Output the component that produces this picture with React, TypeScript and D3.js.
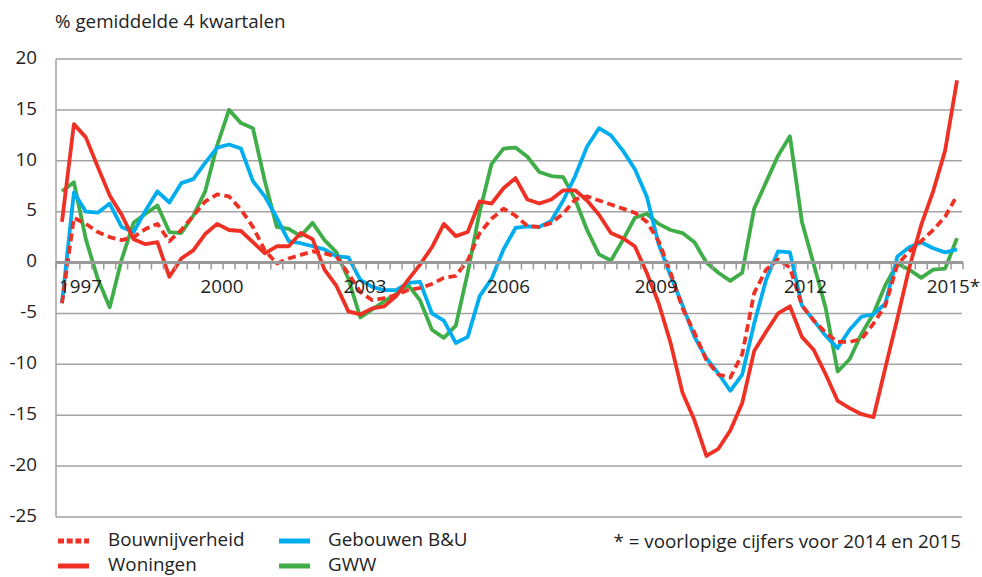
import React from 'react';
import * as d3 from 'd3';

// ---- data (quarterly, 1997K1 .. 2015K4) ----
const years = d3.range(1997, 2016);
const categories: string[] = years.flatMap((y) => [1, 2, 3, 4].map((q) => `${y}K${q}`));

const bouwnijverheid = [
  -4.0, 4.4, 3.8, 3.0, 2.5, 2.2, 2.5, 3.3, 3.8, 2.1, 3.2, 4.6, 6.0, 6.7, 6.5, 5.2,
  3.5, 1.2, -0.1, 0.4, 0.75, 1.1, 0.9, 0.6, -1.1, -2.9, -3.7, -3.5, -3.2, -2.7, -2.5, -2.1,
  -1.5, -1.3, 0.2, 2.9, 4.3, 5.3, 4.6, 3.6, 3.5, 3.9, 4.8, 6.2, 6.5, 6.1, 5.7, 5.3,
  4.9, 4.0, 2.1, -1.0, -4.5, -6.9, -9.6, -11.0, -11.3, -9.0, -3.0, -0.7, 0.3, -0.5, -4.2, -5.7,
  -6.9, -7.8, -7.8, -7.5, -6.0, -4.2, -0.2, 1.1, 2.1, 3.2, 4.5, 6.6,
];
const woningen = [
  4.0, 13.6, 12.3, 9.4, 6.6, 4.7, 2.3, 1.8, 2.0, -1.4, 0.4, 1.2, 2.8, 3.8, 3.2, 3.1,
  2.0, 0.9, 1.6, 1.6, 2.9, 2.3, -0.7, -2.3, -4.8, -5.1, -4.5, -4.3, -3.3, -1.7, -0.2, 1.5,
  3.8, 2.6, 3.0, 6.0, 5.8, 7.3, 8.3, 6.2, 5.8, 6.2, 7.1, 7.1, 6.1, 4.7, 2.9, 2.4,
  1.6, -1.0, -4.0, -7.9, -12.8, -15.5, -19.0, -18.3, -16.5, -13.8, -8.7, -6.8, -5.0, -4.3, -7.3, -8.6,
  -11.0, -13.6, -14.3, -14.9, -15.2, -10.3, -5.5, -0.5, 3.7, 7.0, 11.0, 17.9,
];
const gebouwen = [
  -4.0, 6.9, 5.0, 4.9, 5.8, 3.5, 3.0, 5.1, 7.0, 5.9, 7.8, 8.2, 9.8, 11.3, 11.6, 11.2,
  8.0, 6.5, 4.4, 2.1, 1.9, 1.6, 1.3, 0.6, 0.5, -1.7, -2.4, -2.7, -2.7, -2.0, -1.9, -5.0,
  -5.7, -7.9, -7.3, -3.3, -1.6, 1.3, 3.4, 3.55, 3.5, 4.1, 6.1, 8.5, 11.4, 13.2, 12.5, 11.0,
  9.2, 6.5, 1.8, -1.3, -4.2, -7.3, -9.4, -10.9, -12.6, -11.0, -6.0, -1.7, 1.1, 1.0, -4.2, -5.7,
  -7.2, -8.4, -6.6, -5.3, -5.1, -4.0, 0.6, 1.5, 2.0, 1.4, 1.0, 1.3,
];
const gww = [
  7.0, 7.9, 2.3, -1.6, -4.4, 0.3, 3.9, 4.8, 5.6, 3.0, 2.9, 4.6, 7.0, 11.5, 15.0, 13.7,
  13.2, 8.0, 3.5, 3.3, 2.6, 3.9, 2.2, 1.0, -1.6, -5.4, -4.6, -3.8, -3.1, -2.2, -3.7, -6.6,
  -7.4, -6.2, -1.0, 5.0, 9.7, 11.2, 11.3, 10.4, 8.9, 8.5, 8.4, 6.2, 3.2, 0.8, 0.2, 2.2,
  4.4, 4.8, 3.8, 3.2, 2.9, 2.0, 0.0, -1.0, -1.8, -1.0, 5.3, 7.9, 10.5, 12.4, 4.0, -0.2,
  -4.5, -10.7, -9.5, -7.0, -5.0, -2.2, -0.1, -0.7, -1.5, -0.7, -0.6, 2.4,
];

const yTicks = [20, 15, 10, 5, 0, -5, -10, -15, -20, -25];
const xLabels = ['1997', '2000', '2003', '2006', '2009', '2012', '2015*'];
const xLabelPos = [1.55, 13.41, 25.39, 37.42, 49.8, 62.3, 74.7]; // category index (fractional)

const RED = '#ee3124';
const BLUE = '#00aeef';
const GREEN = '#3fae49';
const GRID = '#a3a3a3';
const TEXT = '#222222';
const FONT = '"Open Sans", sans-serif';
const FS = 18.8;

const series = [
  { name: 'GWW', values: gww, color: GREEN, dash: null as string | null },
  { name: 'Gebouwen B&U', values: gebouwen, color: BLUE, dash: null as string | null },
  { name: 'Woningen', values: woningen, color: RED, dash: null as string | null },
  { name: 'Bouwnijverheid', values: bouwnijverheid, color: RED, dash: '8 4.5' },
];

const legend = [
  { name: 'Bouwnijverheid', color: RED, dash: '6 2.7', col: 0, row: 0 },
  { name: 'Woningen', color: RED, dash: null as string | null, col: 0, row: 1 },
  { name: 'Gebouwen B&U', color: BLUE, dash: null as string | null, col: 1, row: 0 },
  { name: 'GWW', color: GREEN, dash: null as string | null, col: 1, row: 1 },
];

export default function App() {
  const W = 982;
  const H = 577;
  const left = 56;
  const right = 963;
  const top = 59;
  const bottom = 517;

  const x = d3.scaleBand<string>().domain(categories).range([left, right]).paddingInner(0).paddingOuter(0);
  const bw = x.bandwidth();
  const xIdx = d3.scaleLinear().domain([0, categories.length]).range([left, right]);
  const cx = (i: number) => (x(categories[i]) as number) + bw / 2;
  const y = d3.scaleLinear().domain([-25, 20]).range([bottom, top]);

  const line = d3
    .line<number>()
    .x((_, i) => cx(i))
    .y((d) => y(d))
    .curve(d3.curveLinear);

  const y0 = y(0);

  return (
    <svg
      width={W}
      height={H}
      viewBox={`0 0 ${W} ${H}`}
      style={{ position: 'absolute', left: 0, top: 0, background: '#fff' }}
      fontFamily={FONT}
    >
      <text x={55} y={28} fontSize={FS} fill={TEXT}>
        % gemiddelde 4 kwartalen
      </text>

      {/* grid */}
      {yTicks.map((t) => (
        <g key={t}>
          {t !== 0 && (
            <line x1={left} x2={962} y1={y(t)} y2={y(t)} stroke={GRID} strokeWidth={1.5} />
          )}
          <text x={37} y={y(t) + 4.8} fontSize={FS} fill={TEXT} textAnchor="end">
            {t}
          </text>
        </g>
      ))}
      <line x1={left} x2={left} y1={top} y2={bottom} stroke={GRID} strokeWidth={1.5} />

      {/* series */}
      {series.map((s) => (
        <path
          key={s.name}
          d={line(s.values) || ''}
          fill="none"
          stroke={s.color}
          strokeWidth={3.8}
          strokeLinejoin="round"
          strokeDasharray={s.dash || undefined}
        />
      ))}

      {/* zero axis with ticks */}
      <line x1={left} x2={right} y1={y0} y2={y0} stroke="#9a9a9a" strokeWidth={3} />
      {d3.range(categories.length + 1).map((i) => (
        <line
          key={i}
          x1={xIdx(i)}
          x2={xIdx(i)}
          y1={y0}
          y2={y0 + 7}
          stroke="#9a9a9a"
          strokeWidth={1.5}
        />
      ))}
      {xLabels.map((l, k) => (
        <text
          key={l}
          x={cx(0) + xLabelPos[k] * bw}
          y={y0 + 30}
          fontSize={FS}
          fill={TEXT}
          textAnchor="middle"
        >
          {l}
        </text>
      ))}

      {/* legend */}
      {legend.map((l) => {
        const lx = l.col === 0 ? 58 : 279;
        const ly = l.row === 0 ? 541 : 566;
        const ty = l.row === 0 ? 545.6 : 571.3;
        return (
          <g key={l.name}>
            <line
              x1={lx}
              x2={lx + 31}
              y1={ly}
              y2={ly}
              stroke={l.color}
              strokeWidth={5}
              strokeDasharray={l.dash || undefined}
            />
            <text x={lx + (l.col === 0 ? 50 : 49)} y={ty} fontSize={FS} fill={TEXT}>
              {l.name}
            </text>
          </g>
        );
      })}
      <text x={961} y={547.5} fontSize={FS} fill={TEXT} textAnchor="end">
        * = voorlopige cijfers voor 2014 en 2015
      </text>
    </svg>
  );
}
